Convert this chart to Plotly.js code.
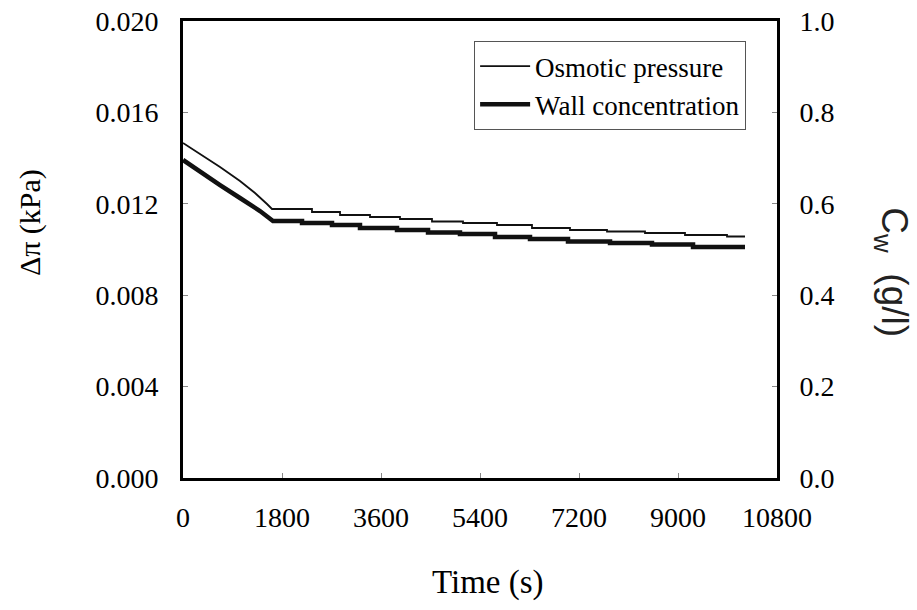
<!DOCTYPE html>
<html>
<head>
<meta charset="utf-8">
<script src="https://cdn.plot.ly/plotly-3.0.1.min.js"></script>
<style>
html,body{margin:0;padding:0;background:#fff;}
#chart{width:917px;height:610px;}
</style>
</head>
<body>
<div id="chart"></div>
<script>
// ---- Data ----
// Osmotic pressure (left axis, kPa): initial decline
const osmoticDeclineTime = [0, 309, 673, 1036, 1309, 1527, 1618];
const osmoticDeclineValue = [0.014661, 0.014180, 0.013611, 0.012998, 0.012473, 0.011991, 0.011772];
// Osmotic pressure: step plateau starts and values
const osmoticStepStart = [1618, 2345, 2855, 3400, 3945, 4527, 5091, 5709, 6345, 7036, 7709, 8400, 9127, 9891];
const osmoticStepValue = [0.011772, 0.011641, 0.011510, 0.011422, 0.011335, 0.011225, 0.011160, 0.011072, 0.010941, 0.010853, 0.010788, 0.010722, 0.010635, 0.010569];
const osmoticEndTime = 10218;

// Wall concentration (right axis, g/l): initial decline
const wallDeclineTime = [0, 309, 673, 1036, 1400, 1636];
const wallDeclineValue = [0.696, 0.6696, 0.6411, 0.6127, 0.5842, 0.5624];
// Wall concentration: step plateau starts and values
const wallStepStart = [1636, 2164, 2709, 3218, 3891, 4455, 5036, 5673, 6309, 7000, 7764, 8527, 9273];
const wallStepValue = [0.5624, 0.5580, 0.5536, 0.5470, 0.5427, 0.5372, 0.5339, 0.5273, 0.5230, 0.5175, 0.5142, 0.5109, 0.5055];
const wallEndTime = 10218;

// Axis ticks
const xTicks = [0, 1800, 3600, 5400, 7200, 9000, 10800];
const yLeftTicks = [0, 0.004, 0.008, 0.012, 0.016, 0.020];
const yRightTicks = [0, 0.2, 0.4, 0.6, 0.8, 1.0];

const seriesNames = ['Osmotic pressure', 'Wall concentration'];

// Build stepped series from plateau arrays
function buildSeries(dT, dV, sStart, sVal, endT) {
  const t = dT.slice(), v = dV.slice();
  for (let i = 0; i < sStart.length; i++) {
    const end = i + 1 < sStart.length ? sStart[i + 1] : endT;
    t.push(sStart[i]); v.push(sVal[i]);
    t.push(end); v.push(sVal[i]);
  }
  return {t, v};
}
const osm = buildSeries(osmoticDeclineTime, osmoticDeclineValue, osmoticStepStart, osmoticStepValue, osmoticEndTime);
const wall = buildSeries(wallDeclineTime, wallDeclineValue, wallStepStart, wallStepValue, wallEndTime);

const serif = 'Liberation Serif';
const sans = 'Liberation Sans';

const traces = [
  {x: osm.t, y: osm.v, name: seriesNames[0], mode: 'lines', yaxis: 'y',
   line: {color: '#111', width: 1.8}},
  {x: wall.t, y: wall.v, name: seriesNames[1], mode: 'lines', yaxis: 'y2',
   line: {color: '#111', width: 4.5}}
];

function axisBase() {
  return {
    showline: true, linewidth: 3, linecolor: '#000', showgrid: false, zeroline: false,
    ticks: 'inside', ticklen: 5, tickwidth: 1, tickcolor: '#888',
    tickfont: {family: serif, size: 28, color: '#000'}
  };
}

const layout = {
  width: 917, height: 610,
  margin: {l: 183, r: 140, t: 21, b: 132},
  paper_bgcolor: '#fff', plot_bgcolor: '#fff',
  font: {family: serif, size: 27, color: '#000'},
  showlegend: true,
  legend: {
    x: 0.948, xanchor: 'right', y: 0.956, yanchor: 'top',
    bgcolor: '#fff', bordercolor: '#555', borderwidth: 1,
    font: {family: serif, size: 27, color: '#000'},
    itemwidth: 50, tracegroupgap: 0
  },
  xaxis: Object.assign(axisBase(), {
    range: [0, 10800], tickmode: 'array', tickvals: xTicks,
    ticktext: xTicks.map(String), mirror: true, ticklabelstandoff: 12
  }),
  yaxis: Object.assign(axisBase(), {
    range: [0, 0.020], tickmode: 'array', tickvals: yLeftTicks,
    ticktext: yLeftTicks.map(v => v.toFixed(3)), ticklabelstandoff: 16
  }),
  yaxis2: Object.assign(axisBase(), {
    range: [0, 1.0], overlaying: 'y', side: 'right', tickmode: 'array',
    tickvals: yRightTicks, ticktext: yRightTicks.map(v => v.toFixed(1)),
    ticklabelstandoff: 14
  }),
  annotations: [
    {text: 'Time (s)', xref: 'paper', yref: 'paper', x: 0.5135, y: -0.2276,
     xanchor: 'center', yanchor: 'middle', showarrow: false,
     font: {family: serif, size: 33, color: '#000'}},
    {text: 'Δπ (kPa)', xref: 'paper', yref: 'paper', x: -0.2576, y: 0.56,
     xanchor: 'center', yanchor: 'middle', showarrow: false, textangle: -90,
     font: {family: serif, size: 30, color: '#000'}},
    {text: 'C<sub>w</sub>  (g/l)', xref: 'paper', yref: 'paper', x: 1.193, y: 0.4508,
     xanchor: 'center', yanchor: 'middle', showarrow: false, textangle: 90,
     font: {family: sans, size: 37, color: '#222'}}
  ]
};

Plotly.newPlot('chart', traces, layout, {displayModeBar: false, staticPlot: true});
</script>
</body>
</html>
